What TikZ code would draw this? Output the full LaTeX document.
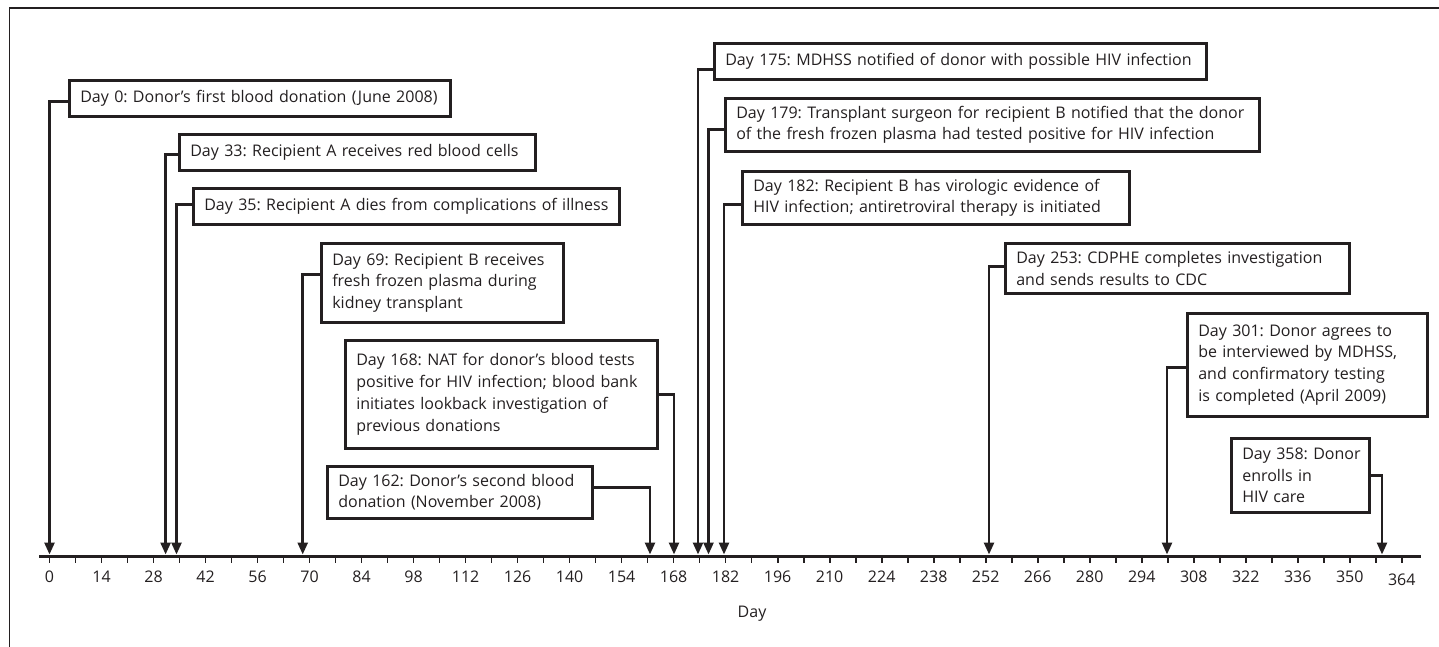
\documentclass[tikz,border=0pt]{standalone}
\usepackage{fontspec}
\setmainfont{Open Sans}
\usetikzlibrary{arrows.meta}
\definecolor{ink}{HTML}{231F20}
\begin{document}
\frenchspacing
\begin{tikzpicture}[x=1pt,y=-1pt,
  evbox/.style={draw=ink, line width=2.6pt, anchor=north west, inner xsep=11pt, inner ysep=0pt, align=left, font=\fontsize{16}{21.7}\selectfont, text=ink},
  conn/.style={draw=ink, line width=2.6pt, -{Triangle[length=12pt,width=10pt]}},
  axisline/.style={draw=ink, line width=3pt},
  tickmark/.style={draw=ink, line width=1.7pt},
  ticklab/.style={font=\fontsize{16}{19}\selectfont, text=ink, inner sep=0pt},
  frameline/.style={draw=ink, line width=1.8pt}]
\useasboundingbox (0,0) rectangle (1439,647);

% frame
\coordinate (fTL) at (9.5,8.3);
\coordinate (fTR) at (1439,8.3);
\coordinate (fBL) at (9.5,647);
\draw[frameline] (fTR) -- (fTL) -- (fBL);

% axis
\coordinate (axL) at (39,556);
\coordinate (axR) at (1421,556);
\draw[axisline] (axL) -- (axR);
\foreach \d in {0,7,...,364} \draw[tickmark] ({49.5+3.715*\d},556) -- ++(0,7);
\foreach \d in {0,14,...,350} \node[ticklab] (lab\d) at ({49.5+3.715*\d},577) {\d};
\node[ticklab] (lab364) at ({49.5+3.715*364},580) {364};
\node[ticklab] (daylab) at (752,614) {Day};

% arrow targets
\coordinate (t0) at (49.5,554.5);
\coordinate (t33) at (165.6,554.5);
\coordinate (t35) at (176.5,554.5);
\coordinate (t69) at (302.7,554.5);
\coordinate (t162) at (650,554.5);
\coordinate (t168) at (674,554.5);
\coordinate (t175) at (698,554.5);
\coordinate (t179) at (708.5,554.5);
\coordinate (t182) at (724,554.5);
\coordinate (t253) at (989,554.5);
\coordinate (t301) at (1167,554.5);
\coordinate (t358) at (1382,554.5);

% boxes
\node[evbox, minimum width=381pt, minimum height=36pt, text width=359pt] (b0) at (68,79)
  {\mbox{Day 0: Donor’s first blood donation (June 2008)}};
\node[evbox, minimum width=356pt, minimum height=36pt, text width=334pt] (b33) at (178,133)
  {\mbox{Day 33: Recipient A receives red blood cells}};
\node[evbox, minimum width=426pt, minimum height=36pt, text width=404pt] (b35) at (192,187)
  {\mbox{Day 35: Recipient A dies from complications of illness}};
\node[evbox, minimum width=242pt, minimum height=79pt, text width=220pt] (b69) at (320,242)
  {\mbox{Day 69: Recipient B receives}\\\mbox{fresh frozen plasma during}\\\mbox{kidney transplant}};
\node[evbox, minimum width=312pt, minimum height=108pt, text width=290pt] (b168) at (344,339)
  {\mbox{Day 168: NAT for donor’s blood tests}\\\mbox{positive for HIV infection; blood bank}\\\mbox{initiates lookback investigation of}\\\mbox{previous donations}};
\node[evbox, minimum width=265pt, minimum height=52pt, text width=243pt] (b162) at (326,465)
  {\mbox{Day 162: Donor’s second blood}\\\mbox{donation (November 2008)}};
\node[evbox, minimum width=492pt, minimum height=36pt, text width=470pt] (b175) at (713,42)
  {\mbox{Day 175: MDHSS notified of donor with possible HIV infection}};
\node[evbox, minimum width=534pt, minimum height=53pt, text width=512pt] (b179) at (724,97)
  {\mbox{Day 179: Transplant surgeon for recipient B notified that the donor}\\\mbox{of the fresh frozen plasma had tested positive for HIV infection}};
\node[evbox, minimum width=387pt, minimum height=53pt, text width=365pt] (b182) at (741,170)
  {\mbox{Day 182: Recipient B has virologic evidence of}\\\mbox{HIV infection; antiretroviral therapy is initiated}};
\node[evbox, minimum width=344pt, minimum height=50pt, text width=322pt] (b253) at (1004,242)
  {\mbox{Day 253: CDPHE completes investigation}\\\mbox{and sends results to CDC}};
\node[evbox, minimum width=240pt, minimum height=103pt, text width=218pt] (b301) at (1186,312)
  {\mbox{Day 301: Donor agrees to}\\\mbox{be interviewed by MDHSS,}\\\mbox{and confirmatory testing}\\\mbox{is completed (April 2009)}};
\node[evbox, minimum width=138pt, minimum height=74pt, text width=116pt] (b358) at (1230,437)
  {\mbox{Day 358: Donor}\\\mbox{enrolls in}\\\mbox{HIV care}};

% connectors
\draw[conn] ([yshift=-3pt]b0.west) -| (t0);
\draw[conn] ([yshift=-2pt]b33.west) -| (t33);
\draw[conn] ([yshift=2pt]b35.west) -| (t35);
\draw[conn] ([yshift=8.5pt]b69.west) -| (t69);
\draw[conn] (b168.east) -| (t168);
\draw[conn] ([yshift=5pt]b162.east) -| (t162);
\draw[conn] ([yshift=-8pt]b175.west) -| (t175);
\draw[conn] ([yshift=-4.5pt]b179.west) -| (t179);
\draw[conn] ([yshift=-6.5pt]b182.west) -| (t182);
\draw[conn] ([yshift=2pt]b253.west) -| (t253);
\draw[conn] ([yshift=-2.5pt]b301.west) -| (t301);
\draw[conn] (b358.east) -| (t358);
\end{tikzpicture}
\end{document}
